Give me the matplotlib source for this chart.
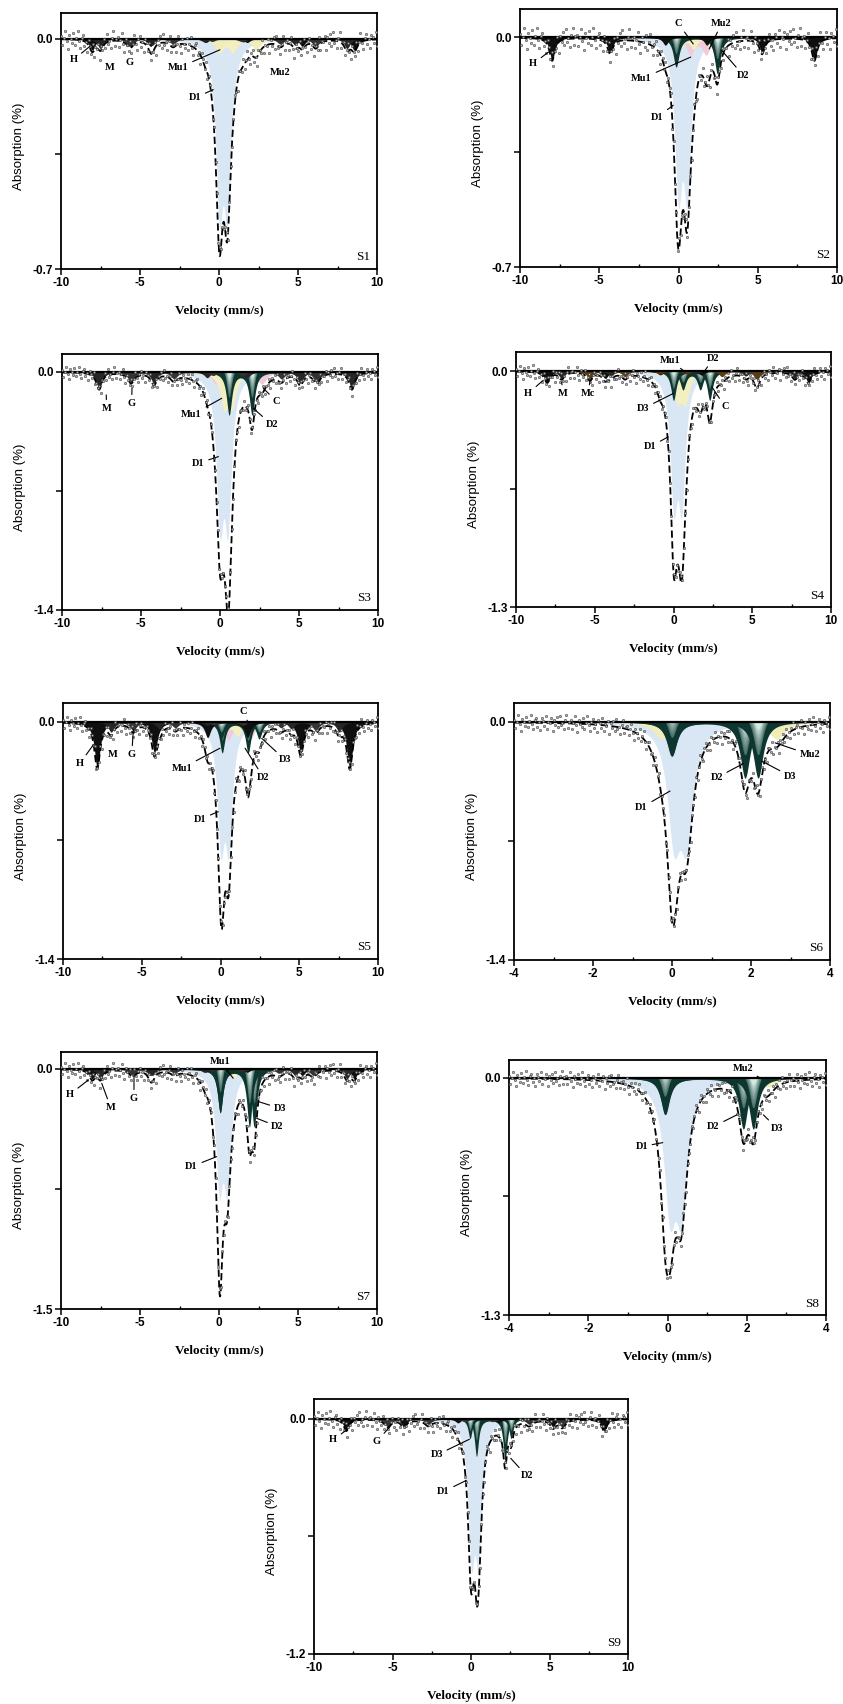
import numpy as np
import matplotlib
matplotlib.use("Agg")
import matplotlib.pyplot as plt
from matplotlib.ticker import MultipleLocator
from matplotlib.colors import to_rgb

# doublets: (name, isomer shift, quadrupole splitting, depth left line, depth right line, hwhm)
# sextets:  (name, isomer shift, quadrupole shift, hyperfine field T, depth outer line, hwhm)
S1_DOUBLETS = [("D1", 0.28, 0.50, 0.47, 0.47, 0.27), ("Mu1", 0.45, 0.85, 0.04, 0.04, 0.30),
               ("Mu2", 1.15, 2.40, 0.035, 0.035, 0.30)]
S1_SEXTETS = [("H", 0.37, -0.10, 51.5, 0.035, 0.22), ("M", 0.30, 0.00, 48.5, 0.03, 0.22),
              ("G", 0.37, -0.12, 36.5, 0.025, 0.25)]

S2_DOUBLETS = [("D1", 0.27, 0.55, 0.43, 0.43, 0.28), ("C", 1.25, 1.00, 0.05, 0.05, 0.30),
               ("Mu1", 0.50, 0.90, 0.035, 0.035, 0.25), ("Mu2", 1.05, 1.70, 0.03, 0.03, 0.25),
               ("D2", 1.15, 2.60, 0.09, 0.11, 0.22)]
S2_SEXTETS = [("H", 0.39, -0.09, 51.4, 0.07, 0.20)]

S3_DOUBLETS = [("D1", 0.25, 0.50, 0.80, 0.80, 0.27), ("C", 1.20, 2.90, 0.07, 0.07, 0.35),
               ("Mu1", 0.50, 0.50, 0.18, 0.18, 0.30), ("D2", 1.30, 1.45, 0.25, 0.25, 0.20)]
S3_SEXTETS = [("M", 0.40, -0.05, 49.7, 0.10, 0.22), ("G", 0.37, -0.12, 36.5, 0.06, 0.25)]

S4_DOUBLETS = [("D1", 0.27, 0.50, 0.66, 0.66, 0.27), ("C", 1.35, 2.00, 0.07, 0.07, 0.30),
               ("Mu1", 0.50, 0.50, 0.15, 0.15, 0.30), ("D2", 1.15, 1.10, 0.10, 0.10, 0.22),
               ("D3", 1.15, 2.30, 0.16, 0.16, 0.20)]
S4_SEXTETS = [("H", 0.37, -0.10, 51.5, 0.06, 0.22), ("M", 0.30, 0.00, 46.0, 0.04, 0.22),
              ("Mc", 0.00, 0.00, 33.0, 0.045, 0.22)]

S5_DOUBLETS = [("D1", 0.27, 0.50, 0.66, 0.66, 0.27), ("C", 1.20, 1.40, 0.10, 0.10, 0.30),
               ("Mu1", 0.60, 1.00, 0.08, 0.08, 0.30), ("D2", 0.93, 1.65, 0.18, 0.18, 0.20),
               ("D3", 1.25, 2.40, 0.10, 0.10, 0.22)]
S5_SEXTETS = [("H", 0.32, -0.13, 49.8, 0.27, 0.22), ("M", 0.30, 0.00, 45.0, 0.06, 0.22),
              ("G", 0.37, -0.12, 36.0, 0.05, 0.25)]

S6_DOUBLETS = [("D1", 0.21, 0.32, 0.62, 0.62, 0.20), ("Mu2", 1.20, 2.90, 0.10, 0.10, 0.25),
               ("D2", 0.92, 1.86, 0.20, 0.33, 0.15), ("D3", 1.09, 2.18, 0.20, 0.33, 0.15)]
S6_SEXTETS = []

S7_DOUBLETS = [("D1", 0.27, 0.50, 0.66, 0.66, 0.27), ("Mu1", 0.50, 0.90, 0.05, 0.05, 0.30),
               ("D2", 1.15, 2.15, 0.27, 0.36, 0.20), ("D3", 1.00, 1.85, 0.27, 0.36, 0.20)]
S7_SEXTETS = [("H", 0.37, -0.10, 51.5, 0.06, 0.22), ("M", 0.30, 0.00, 48.5, 0.06, 0.22),
              ("G", 0.37, -0.12, 35.5, 0.04, 0.25)]

S8_DOUBLETS = [("D1", 0.205, 0.29, 0.65, 0.65, 0.18), ("Mu2", 1.20, 2.70, 0.05, 0.05, 0.20),
               ("D2", 0.93, 1.97, 0.20, 0.28, 0.13), ("D3", 1.05, 2.23, 0.20, 0.28, 0.13)]
S8_SEXTETS = []

S9_DOUBLETS = [("D1", 0.25, 0.45, 0.63, 0.63, 0.25), ("D2", 1.26, 1.82, 0.19, 0.21, 0.15),
               ("D3", 1.245, 2.61, 0.10, 0.10, 0.15)]
S9_SEXTETS = [("H", 0.37, -0.10, 51.0, 0.06, 0.20), ("G", 0.37, -0.12, 34.5, 0.04, 0.25)]

# label text, text x, text y, pointer x, pointer y (None = no leader)
S1_LABELS = [("H", -9.2, -0.064, -8.16, -0.023), ("M", -6.9, -0.089, None, None),
             ("G", -5.63, -0.074, None, None), ("Mu1", -2.58, -0.089, 0.06, -0.034),
             ("Mu2", 3.86, -0.104, None, None), ("D1", -1.52, -0.18, -0.36, -0.155)]
S2_LABELS = [("H", -9.16, -0.08, -8.21, -0.045), ("C", -0.01, 0.042, 0.93, -0.02),
             ("Mu2", 2.72, 0.042, 1.94, -0.035), ("Mu1", -2.32, -0.126, 0.77, -0.06),
             ("D2", 4.09, -0.116, 2.73, -0.04), ("D1", -1.34, -0.243, -0.33, -0.207)]
S3_LABELS = [("M", -7.18, -0.214, -7.2, -0.135), ("G", -5.59, -0.184, -5.57, -0.096),
             ("Mu1", -1.79, -0.253, 0.11, -0.155), ("C", 3.59, -0.175, 2.74, -0.096),
             ("D2", 3.27, -0.31, 2.11, -0.214), ("D1", -1.37, -0.537, -0.1, -0.498)]
S4_LABELS = [("H", -9.22, -0.123, -8.27, -0.05), ("M", -7.0, -0.123, -7.1, -0.06),
             ("Mc", -5.41, -0.123, -5.3, -0.05), ("Mu1", -0.22, 0.06, 0.73, -0.004),
             ("D2", 2.53, 0.07, 1.89, -0.01), ("D3", -1.92, -0.206, -0.01, -0.123),
             ("C", 3.27, -0.196, 2.43, -0.086), ("D1", -1.49, -0.417, -0.33, -0.362)]
S5_LABELS = [("H", -8.92, -0.244, -8.08, -0.136), ("M", -6.81, -0.195, None, None),
             ("G", -5.64, -0.191, -5.53, -0.047), ("Mu1", -2.46, -0.274, -0.03, -0.155),
             ("C", 1.45, 0.061, 1.77, -0.008), ("D3", 4.1, -0.224, 2.62, -0.097),
             ("D2", 2.72, -0.327, 1.56, -0.155), ("D1", -1.3, -0.575, -0.14, -0.53)]
S6_LABELS = [("D1", -0.77, -0.504, -0.05, -0.407), ("D2", 1.13, -0.329, 1.81, -0.245),
             ("D3", 2.99, -0.319, 2.27, -0.231), ("Mu2", 3.49, -0.193, 2.61, -0.124)]
S7_LABELS = [("H", -9.43, -0.158, -8.27, -0.069), ("M", -6.86, -0.24, -7.42, -0.09),
             ("G", -5.38, -0.183, -5.38, -0.038), ("Mu1", 0.06, 0.046, 0.9, -0.058),
             ("D3", 3.86, -0.246, 2.49, -0.204), ("D2", 3.71, -0.36, 2.38, -0.308),
             ("D1", -1.73, -0.61, -0.15, -0.548)]
S8_LABELS = [("D1", -0.65, -0.377, -0.12, -0.355), ("D2", 1.16, -0.267, 1.75, -0.203),
             ("D3", 2.76, -0.276, 2.42, -0.203), ("Mu2", 1.92, 0.053, 2.38, -0.006)]
S9_LABELS = [("H", -8.77, -0.107, -7.92, -0.056), ("G", -6.0, -0.116, -5.16, -0.039),
             ("D3", -2.18, -0.184, -0.1, -0.104), ("D2", 3.55, -0.291, 2.53, -0.201),
             ("D1", -1.76, -0.371, -0.32, -0.315)]

# scatter of the measured points around the fit (in units of the panel noise level)
NOISE = [0.35, -0.62, 0.10, 0.84, -0.21, -0.95, 0.47, 0.02, -0.38, 0.71, -0.55, 0.18, 0.93,
         -0.12, -0.77, 0.29, 0.61, -0.44, 0.05, -0.88, 0.52, 0.24, -0.31, 0.79, -0.67, 0.13,
         -0.05, 0.58, -0.92, 0.40, -0.18, 0.66, -0.49, 0.87, -0.26, 0.08, -0.71, 0.33, 0.97,
         -0.58, 0.21]

# name, doublets, sextets, labels, velocity range, y minimum, noise level
SAMPLES = [
    ("S1", S1_DOUBLETS, S1_SEXTETS, S1_LABELS, 10, -0.7, 0.03),
    ("S2", S2_DOUBLETS, S2_SEXTETS, S2_LABELS, 10, -0.7, 0.035),
    ("S3", S3_DOUBLETS, S3_SEXTETS, S3_LABELS, 10, -1.4, 0.04),
    ("S4", S4_DOUBLETS, S4_SEXTETS, S4_LABELS, 10, -1.3, 0.04),
    ("S5", S5_DOUBLETS, S5_SEXTETS, S5_LABELS, 10, -1.4, 0.045),
    ("S6", S6_DOUBLETS, S6_SEXTETS, S6_LABELS, 4, -1.4, 0.05),
    ("S7", S7_DOUBLETS, S7_SEXTETS, S7_LABELS, 10, -1.5, 0.05),
    ("S8", S8_DOUBLETS, S8_SEXTETS, S8_LABELS, 4, -1.3, 0.045),
    ("S9", S9_DOUBLETS, S9_SEXTETS, S9_LABELS, 10, -1.2, 0.045),
]

# axes boxes in pixels: left, top, right, bottom, and fraction of height above the 0.0 line
BOXES = [(61, 13, 377, 269, 0.10), (520, 9, 837, 267, 0.11),
         (62, 354, 378, 610, 0.07), (516, 352, 831, 607, 0.075),
         (63, 703, 378, 959, 0.074), (514, 703, 830, 960, 0.073),
         (61, 1052, 377, 1309, 0.066), (509, 1060, 826, 1315, 0.07),
         (314, 1399, 628, 1654, 0.078)]

W, H = 843, 1704
FE_LINES = np.array([-5.312, -3.076, -0.840, 0.840, 3.076, 5.312])
SEXT_REL = np.array([3, 2, 1, 1, 2, 3]) / 3.0
SEXT_EPS = np.array([1, -1, -1, -1, -1, 1])

COLORS = {"D1": "#d9e6f3", "C": "#f1cadb", "Mu1": "#f3efc0", "Mu2": "#f1edb8",
          "H": "#0f0f0f", "M": "#262626", "G": "#333333", "Mc": "#5a3b14"}
TEAL_DARK, TEAL_LIGHT = "#0c362f", "#d4ebe4"
ORDER = ["D1", "C", "Mu1", "Mu2", "D2", "D3"]

SANS = ["Liberation Sans Narrow", "Liberation Sans", "DejaVu Sans"]
SERIF = ["Liberation Serif", "DejaVu Serif"]


def lor(x, c, d, w):
    return d / (1 + ((x - c) / w) ** 2)


def doublet(x, iso, qs, dl, dr, w):
    return lor(x, iso - qs / 2, dl, w) + lor(x, iso + qs / 2, dr, w)


def sextet(x, iso, eps, bhf, d, w):
    pos = iso + bhf / 33.0 * FE_LINES + eps * SEXT_EPS
    return sum(lor(x, p, d * r, w) for p, r in zip(pos, SEXT_REL))


def teal_fill(ax, x, f):
    ax.fill_between(x, 0, -f, color=TEAL_DARK, lw=0, zorder=3)
    m = f.max()
    c0, c1 = np.array(to_rgb(TEAL_DARK)), np.array(to_rgb(TEAL_LIGHT))
    n = 8
    for k in range(1, n + 1):
        s = k / n
        t = 0.2 + 0.5 * s
        a = 0.85 - 0.45 * s
        g = a * np.clip(f - t * m, 0, None)
        col = c0 + (c1 - c0) * (0.25 + 0.75 * s)
        ax.fill_between(x, 0, -g, color=col, lw=0, zorder=3)


def draw_panel(ax, name, doublets, sextets, labels, vmax, ymin, noise, headroom):
    x = np.linspace(-vmax, vmax, 2001)
    xp = np.linspace(-vmax, vmax, 230)
    total = np.zeros_like(x)
    total_p = np.zeros_like(xp)

    comps = sorted(doublets, key=lambda c: ORDER.index(c[0]))
    for nm, iso, qs, dl, dr, w in comps:
        f = doublet(x, iso, qs, dl, dr, w)
        total += f
        total_p += doublet(xp, iso, qs, dl, dr, w)
        if nm in ("D2", "D3"):
            teal_fill(ax, x, f)
        else:
            ax.fill_between(x, 0, -f, color=COLORS[nm], lw=0, zorder=2)
    for nm, iso, eps, bhf, d, w in sextets:
        f = sextet(x, iso, eps, bhf, d, w)
        total += f
        total_p += sextet(xp, iso, eps, bhf, d, w)
        ax.fill_between(x, 0, -f, color=COLORS[nm], lw=0, zorder=3)

    ax.axhline(0, color="k", lw=1.6, zorder=4)
    ax.plot(x, -total, color="k", lw=1.3, ls=(0, (4, 2)), zorder=5)
    resid = np.array([NOISE[i % len(NOISE)] for i in range(len(xp))])
    ax.plot(xp, -total_p + noise * resid, "o", ms=1.7, mfc="#b5b5b5", mec="#2a2a2a",
            mew=0.35, zorder=6)

    for txt, tx, ty, px, py in labels:
        if px is None:
            ax.text(tx, ty, txt, ha="center", va="center", fontsize=7.5,
                    fontweight="bold", family=SERIF, zorder=8)
        else:
            ax.annotate(txt, xy=(px, py), xytext=(tx, ty), ha="center", va="center",
                        fontsize=7.5, fontweight="bold", family=SERIF, zorder=8,
                        arrowprops=dict(arrowstyle="-", color="k", lw=0.8,
                                        shrinkA=1, shrinkB=0))

    ytop = -ymin * headroom / (1 - headroom)
    ax.set_xlim(-vmax, vmax)
    ax.set_ylim(ymin, ytop)
    step = 5 if vmax == 10 else 2
    ax.set_xticks(np.arange(-vmax, vmax + 0.1, step))
    ax.set_xticklabels([f"{int(v)}" for v in np.arange(-vmax, vmax + 0.1, step)])
    ax.xaxis.set_minor_locator(MultipleLocator(step / 2))
    ax.set_yticks([0, ymin / 2, ymin])
    ax.set_yticklabels(["0.0", "", f"{ymin:.1f}"])
    ax.tick_params(axis="both", which="major", direction="out", length=4, width=1.1,
                   labelsize=8.5, pad=1.5)
    ax.tick_params(axis="x", which="minor", direction="in", length=2.5, width=1)
    for lb in ax.get_xticklabels() + ax.get_yticklabels():
        lb.set_fontweight("bold")
        lb.set_family(SANS)
    for sp in ax.spines.values():
        sp.set_linewidth(1.3)

    ax.text(0.955, 0.045, name, transform=ax.transAxes, ha="center", va="center",
            fontsize=9.5, family=SERIF, zorder=8)


fig = plt.figure(figsize=(W / 100, H / 100), dpi=100)
for (name, dbl, sxt, lbl, vmax, ymin, noise), (l, t, r, b, hr) in zip(SAMPLES, BOXES):
    ax = fig.add_axes([l / W, 1 - b / H, (r - l) / W, (b - t) / H])
    draw_panel(ax, name, dbl, sxt, lbl, vmax, ymin, noise, hr)
    ax.text(-42 / (r - l), 0.48, "Absorption (%)", transform=ax.transAxes, rotation=90,
            ha="center", va="center", fontsize=9.5, family=["Liberation Sans", "DejaVu Sans"])
    ax.text(0.5, -42 / (b - t), "Velocity (mm/s)", transform=ax.transAxes,
            ha="center", va="center", fontsize=9.5, fontweight="bold", family=SERIF)

fig.savefig("out.png", dpi=100)
